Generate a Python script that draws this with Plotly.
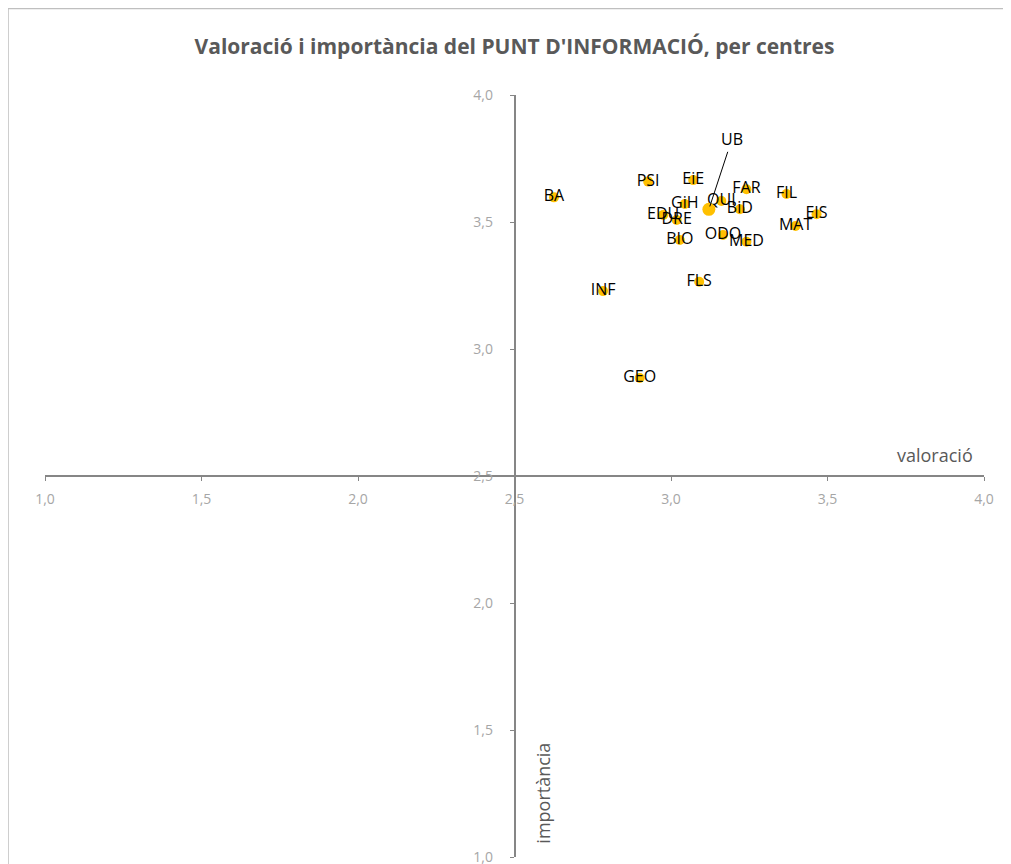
import plotly.graph_objects as go

# centres: valoració (x) i importància (y)
centres = ['BA', 'PSI', 'EiE', 'QUI', 'FAR', 'FIL', 'GiH', 'BiD', 'EDU', 'DRE',
           'EIS', 'MAT', 'ODO', 'MED', 'BIO', 'FLS', 'INF', 'GEO']
valoracio = [2.626, 2.927, 3.071, 3.161, 3.241, 3.369, 3.044, 3.220, 2.975, 3.018,
             3.465, 3.398, 3.166, 3.241, 3.028, 3.090, 2.783, 2.900]
importancia = [3.597, 3.659, 3.665, 3.583, 3.629, 3.610, 3.571, 3.550, 3.528, 3.508,
               3.531, 3.484, 3.449, 3.422, 3.429, 3.265, 3.228, 2.886]

ub_label = 'UB'
ub_valoracio = 3.121
ub_importancia = 3.550

tick_vals = [1.0, 1.5, 2.0, 2.5, 3.0, 3.5, 4.0]

GOLD = '#FFC000'
AXIS = '#868686'
TICK_TXT = '#A6A6A6'
TXT = '#595959'
FONT = 'Open Sans'

fig = go.Figure()

fig.add_trace(go.Scatter(
    x=valoracio, y=importancia, text=centres,
    mode='markers+text', textposition='middle center',
    marker=dict(color=GOLD, size=10),
    textfont=dict(family=FONT, size=16, color='#000000'),
    hoverinfo='skip', showlegend=False, cliponaxis=False
))

fig.add_trace(go.Scatter(
    x=[ub_valoracio], y=[ub_importancia], mode='markers',
    marker=dict(color=GOLD, size=13),
    hoverinfo='skip', showlegend=False
))

fig.add_annotation(
    x=ub_valoracio, y=ub_importancia, text=ub_label,
    showarrow=True, arrowhead=0, arrowwidth=1, arrowcolor='#000000',
    ax=23, ay=-70, standoff=3,
    font=dict(family=FONT, size=16, color='#000000')
)

# axis titles
fig.add_annotation(x=0.9475, y=0.5276, xref='paper', yref='paper', text='valoració',
                   xanchor='center', yanchor='middle',
                   showarrow=False, font=dict(family=FONT, size=18, color=TXT))
fig.add_annotation(x=0.530, y=0.084, xref='paper', yref='paper', text='importància',
                   xanchor='center', yanchor='middle', textangle=-90,
                   showarrow=False, font=dict(family=FONT, size=18, color=TXT))

# chart border
fig.add_shape(type='rect', xref='paper', yref='paper',
              x0=-0.0394, x1=1.0252, y0=-0.05, y1=1.1135,
              line=dict(color='#BFBFBF', width=1.5), fillcolor='rgba(0,0,0,0)', layer='below')

axis_common = dict(
    range=[1, 4], tickvals=tick_vals, tickformat='.1f',
    showgrid=False, zeroline=False,
    showline=True, linecolor=AXIS, linewidth=1.5,
    ticks='outside', ticklen=4, tickcolor=AXIS, tickwidth=1,
    tickfont=dict(family=FONT, size=14, color=TICK_TXT),
    ticklabeloverflow='allow', automargin=False,
    anchor='free', position=0.5,
)

# the page body adds 8px on top and left
W, H = 1003, 856
fig.update_layout(
    width=W, height=H,
    margin=dict(l=37, r=27, t=87, b=7, autoexpand=False),
    paper_bgcolor='white', plot_bgcolor='white',
    separators=',.',
    title=dict(text="<b>Valoració i importància del PUNT D'INFORMACIÓ, per centres</b>",
               x=0.5, xref='paper', y=1 - 39 / H, yanchor='middle',
               font=dict(family=FONT, size=21, color=TXT)),
    xaxis=dict(**axis_common, ticklabelstandoff=6),
    yaxis=dict(**axis_common, ticklabelstandoff=14),
    showlegend=False,
)

fig.write_html('out.html')
